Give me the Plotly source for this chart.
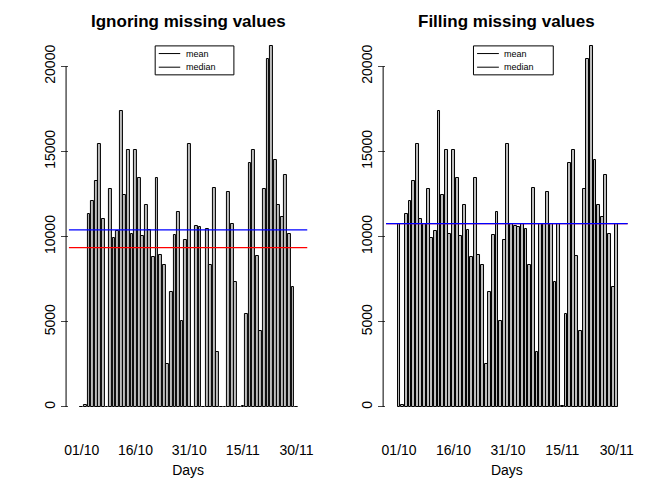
import plotly.graph_objects as go
import numpy as np

dates = ["01/10","02/10","03/10","04/10","05/10","06/10","07/10","08/10","09/10","10/10","11/10","12/10","13/10","14/10","15/10","16/10","17/10","18/10","19/10","20/10","21/10","22/10","23/10","24/10","25/10","26/10","27/10","28/10","29/10","30/10","31/10",
         "01/11","02/11","03/11","04/11","05/11","06/11","07/11","08/11","09/11","10/11","11/11","12/11","13/11","14/11","15/11","16/11","17/11","18/11","19/11","20/11","21/11","22/11","23/11","24/11","25/11","26/11","27/11","28/11","29/11","30/11"]
steps = [None,126,11352,12116,13294,15420,11015,None,12811,9900,10304,17382,12426,15098,10139,15084,13452,10056,11829,10395,8821,13460,8918,8355,2492,6778,10119,11458,5018,9819,15414,
         None,10600,10571,None,10439,8334,12883,3219,None,None,12608,10765,7336,None,41,5441,14339,15110,8841,4472,12787,20427,21194,14478,11834,11162,13646,10183,7047,None]
tick_labels = ["01/10","16/10","31/10","15/11","30/11"]
tick_idx = [0,15,30,45,60]

ign = [0 if s is None else s for s in steps]
mean_ign = float(np.mean(ign)); med_ign = float(np.median(ign))
valid = [s for s in steps if s is not None]
fill_val = float(np.mean(valid))
filled = [fill_val if s is None else s for s in steps]
mean_f = float(np.mean(filled)); med_f = float(np.median(filled))

x = list(range(len(steps)))
fig = go.Figure()
bar = dict(marker=dict(color="#bebebe", line=dict(color="black", width=1)), width=0.78, showlegend=False)
fig.add_trace(go.Bar(x=x, y=ign, xaxis="x", yaxis="y", **bar))
fig.add_trace(go.Bar(x=x, y=filled, xaxis="x2", yaxis="y2", **bar))

xr = [-3.6, 63]; yr = [-646, 21664]
ax = dict(range=xr, tickvals=tick_idx, ticktext=tick_labels, ticks="", showgrid=False, zeroline=False,
          showline=False, ticklabelstandoff=22, tickfont=dict(size=14, color="black"),
          title=dict(text="Days", font=dict(size=14, color="black"), standoff=8))
ay = dict(range=yr, tickvals=[0,5000,10000,15000,20000], ticktext=["0","5000","10000","15000","20000"],
          tickangle=-90, ticks="outside", ticklen=7,
          showgrid=False, zeroline=False, showline=False, tickfont=dict(size=14, color="black"))
fig.update_layout(
    width=672, height=480, plot_bgcolor="white", paper_bgcolor="white", margin=dict(l=0,r=0,t=0,b=0),
    font=dict(family="Liberation Sans, Arial", color="black"),
    xaxis=dict(domain=[0.086,0.446], anchor="y", **ax),
    yaxis=dict(domain=[0.146,0.9375], anchor="x", **ay),
    xaxis2=dict(domain=[0.565,0.93], anchor="y2", **ax),
    yaxis2=dict(domain=[0.146,0.9375], anchor="x2", **ay),
    bargap=0,
)
shapes = []
ann = []
for xa, ya, m, md, title in [("x","y",mean_ign,med_ign,"Ignoring missing values"),
                              ("x2","y2",mean_f,med_f,"Filling missing values")]:
    shapes.append(dict(type="line", xref=xa+" domain", yref=ya, x0=0, x1=1, y0=m, y1=m, line=dict(color="red", width=1.3)))
    shapes.append(dict(type="line", xref=xa+" domain", yref=ya, x0=0, x1=1, y0=md, y1=md, line=dict(color="blue", width=1.3)))
    shapes.append(dict(type="line", xref=xa+" domain", yref=ya, x0=-0.012, x1=-0.012, y0=0, y1=20000, line=dict(color="black", width=1)))
    shapes.append(dict(type="rect", xref=xa, yref=ya, x0=20.5, x1=42.5, y0=19500, y1=21200, line=dict(color="black", width=1)))
    for yy, lab in [(20750,"mean"),(19950,"median")]:
        shapes.append(dict(type="line", xref=xa, yref=ya, x0=21.5, x1=27.5, y0=yy, y1=yy, line=dict(color="black", width=1)))
        ann.append(dict(xref=xa, yref=ya, x=28.5, y=yy, text=lab, showarrow=False, xanchor="left", font=dict(size=9)))
    ann.append(dict(xref=xa+" domain", yref="paper", x=0.5, y=0.995, xanchor="center", yanchor="top",
                    text="<b>"+title+"</b>", showarrow=False, font=dict(size=17)))
fig.update_layout(shapes=shapes, annotations=ann)
fig.write_html("out.html")
